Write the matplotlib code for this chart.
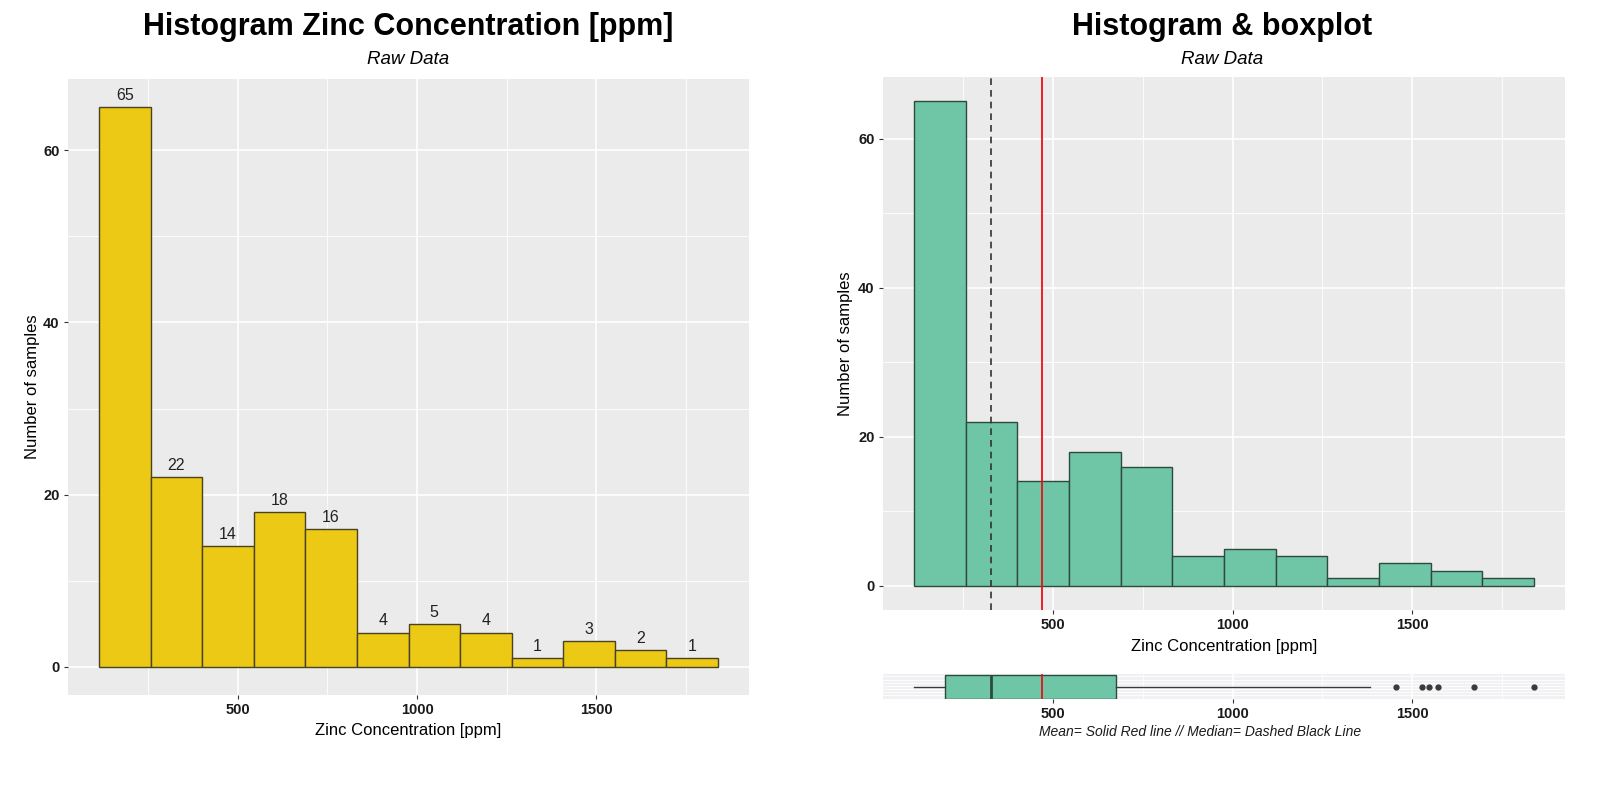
import numpy as np
import matplotlib
matplotlib.use("Agg")
import matplotlib.pyplot as plt

# ---------------- data ----------------
zinc_min = 113
zinc_max = 1839
n_bins = 12
counts = [65, 22, 14, 18, 16, 4, 5, 4, 1, 3, 2, 1]
zinc_mean = 469.7
zinc_median = 326
box_q1 = 198
box_q3 = 674.5
whisker_low = 113
whisker_high = 1383
outliers = [1454, 1528, 1548, 1571, 1672, 1839]
x_ticks = [500, 1000, 1500]
y_ticks = [0, 20, 40, 60]

edges = np.linspace(zinc_min, zinc_max, n_bins + 1)
widths = np.diff(edges)
lefts = edges[:-1]

plt.rcParams['font.family'] = ['Liberation Sans', 'DejaVu Sans']

W, H = 1600, 785
fig = plt.figure(figsize=(W / 100, H / 100), dpi=100)
fig.patch.set_facecolor('white')


def px_axes(x0, y0, x1, y1):
    return fig.add_axes([x0 / W, 1 - y1 / H, (x1 - x0) / W, (y1 - y0) / H])


PANEL = '#EBEBEB'
rng = zinc_max - zinc_min
xlim = (zinc_min - 0.05 * rng, zinc_max + 0.05 * rng)
ymax = max(counts)
ylim = (-0.05 * ymax, ymax * 1.05)


def style(ax):
    ax.set_facecolor(PANEL)
    for s in ax.spines.values():
        s.set_visible(False)
    ax.set_xlim(*xlim)
    ax.set_xticks(x_ticks)
    ax.set_xticks([250, 750, 1250, 1750], minor=True)
    ax.grid(which='major', color='white', linewidth=1.2)
    ax.grid(which='minor', color='white', linewidth=0.6)
    ax.set_axisbelow(True)
    ax.tick_params(which='major', length=3, color='#333333', width=0.8,
                   labelsize=10.5, labelcolor='#1a1a1a', pad=3)
    ax.tick_params(which='minor', length=0)
    for t in ax.get_xticklabels() + ax.get_yticklabels():
        t.set_fontweight('bold')


# ---------------- left histogram ----------------
axL = px_axes(68, 79, 749, 695)
axL.bar(lefts, counts, width=widths, align='edge', color='#EBC915',
        edgecolor='#4a4220', linewidth=1.0, zorder=3)
axL.set_ylim(*ylim)
axL.set_yticks(y_ticks)
axL.set_yticks([10, 30, 50], minor=True)
style(axL)
for l, w, c in zip(lefts, widths, counts):
    axL.annotate(str(c), (l + w / 2, c), xytext=(0, 3), textcoords='offset points',
                 ha='center', va='bottom', fontsize=11.5, color='#222222')
axL.set_xlabel('Zinc Concentration [ppm]', fontsize=12, labelpad=4)
axL.set_ylabel('Number of samples', fontsize=12, labelpad=2)
fig.text(408 / W, 1 - 27 / H, 'Histogram Zinc Concentration [ppm]', ha='center',
         va='center', fontsize=22, fontweight='bold')
fig.text(408 / W, 1 - 60 / H, 'Raw Data', ha='center', va='center',
         fontsize=13.5, style='italic')

# ---------------- right histogram ----------------
axR = px_axes(883, 77, 1565, 610)
axR.bar(lefts, counts, width=widths, align='edge', color='#6FC6A7',
        edgecolor='#2d4a40', linewidth=1.0, zorder=3)
axR.set_ylim(*ylim)
axR.set_yticks(y_ticks)
axR.set_yticks([10, 30, 50], minor=True)
style(axR)
axR.axvline(zinc_median, color='#333333', linestyle=(0, (4, 3)), linewidth=1.2, zorder=4)
axR.axvline(zinc_mean, color='#e8101a', linewidth=1.3, zorder=4)
axR.set_xlabel('Zinc Concentration [ppm]', fontsize=12, labelpad=5)
axR.set_ylabel('Number of samples', fontsize=12, labelpad=4)
fig.text(1222 / W, 1 - 27 / H, 'Histogram & boxplot', ha='center',
         va='center', fontsize=22, fontweight='bold')
fig.text(1222 / W, 1 - 60 / H, 'Raw Data', ha='center', va='center',
         fontsize=13.5, style='italic')

# ---------------- boxplot ----------------
axB = px_axes(883, 673, 1565, 699)
stats = [dict(med=zinc_median, q1=box_q1, q3=box_q3, whislo=whisker_low,
              whishi=whisker_high, fliers=outliers, mean=zinc_mean)]
axB.bxp(stats, positions=[1], widths=0.75, vert=False, showcaps=False,
        patch_artist=True, showmeans=False,
        boxprops=dict(facecolor='#6FC6A7', edgecolor='#2d4a40', linewidth=1.0),
        medianprops=dict(color='#2d4a40', linewidth=2),
        whiskerprops=dict(color='#3a3a3a', linewidth=1.0),
        flierprops=dict(marker='o', markersize=3.5, markerfacecolor='#3a3a3a',
                        markeredgecolor='#3a3a3a'),
        zorder=3)
axB.plot([zinc_mean, zinc_mean], [1 - 0.375, 1 + 0.375], color='#e8101a',
         linewidth=1.3, zorder=5)
axB.set_ylim(1 - 0.375 - 0.005, 1 + 0.375 + 0.07)
style(axB)
axB.set_facecolor('#F1F1F4')
axB.grid(False, axis='y')
axB.set_yticks([])
for yy in np.linspace(0.63, 1.44, 9):
    axB.axhline(yy, color='white', linewidth=0.6, zorder=1)
axB.tick_params(axis='x', pad=3)
fig.text(1200 / W, 1 - 732 / H, 'Mean= Solid Red line // Median= Dashed Black Line',
         ha='center', va='center', fontsize=10, style='italic', color='#1a1a1a')

fig.savefig('out.png', dpi=100)
